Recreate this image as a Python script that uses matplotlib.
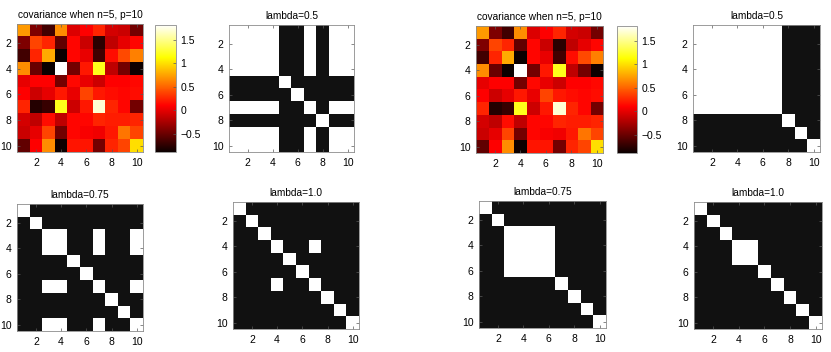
import numpy as np
import matplotlib.pyplot as plt
from matplotlib.colors import ListedColormap

# sample covariance (n=5, p=10)
cov_row1 = [0.72, -0.42, -0.66, 0.67, -0.04, 0.10, 0.25, -0.07, -0.11, -0.46]
cov_row2 = [-0.42, 0.38, 0.25, -0.54, 0.12, -0.11, -0.76, -0.15, 0.00, 0.12]
cov_row3 = [-0.66, 0.25, 0.79, -0.89, 0.12, 0.02, -0.66, 0.15, 0.40, 0.62]
cov_row4 = [0.67, -0.50, -0.89, 1.82, -0.46, 0.20, 1.20, -0.15, -0.46, -0.87]
cov_row5 = [0.00, 0.10, 0.10, -0.46, 0.13, 0.02, -0.10, 0.10, 0.10, 0.13]
cov_row6 = [0.10, -0.10, 0.00, 0.20, 0.02, 0.38, 0.20, 0.15, 0.12, 0.15]
cov_row7 = [0.25, -0.78, -0.70, 1.20, -0.10, 0.20, 1.70, 0.25, 0.12, -0.46]
cov_row8 = [-0.07, -0.15, 0.15, -0.15, 0.12, 0.12, 0.25, 0.22, 0.22, 0.25]
cov_row9 = [-0.11, 0.00, 0.38, -0.46, 0.12, 0.08, 0.05, 0.20, 0.58, 0.38]
cov_row10 = [-0.54, 0.10, 0.67, -0.87, 0.18, 0.18, -0.46, 0.25, 0.38, 1.00]

# cluster label of each of the 10 variables (same label -> white block)
left_lam05 = [1, 1, 1, 1, 2, 3, 1, 4, 1, 1]
left_lam075 = [1, 2, 3, 3, 4, 5, 3, 6, 7, 3]
left_lam10 = [1, 2, 3, 4, 5, 6, 4, 7, 8, 9]
right_lam05 = [1, 1, 1, 1, 1, 1, 1, 2, 3, 4]
right_lam075 = [1, 2, 3, 3, 3, 3, 4, 5, 6, 7]
right_lam10 = [1, 2, 3, 4, 4, 5, 6, 7, 8, 9]

lambdas = ['lambda=0.5', 'lambda=0.75', 'lambda=1.0']
ticks = [2, 4, 6, 8, 10]
cb_ticks = [-0.5, 0, 0.5, 1, 1.5]
cb_labels = ['\u22120.5', '0', '0.5', '1', '1.5']

cov = np.array([cov_row1, cov_row2, cov_row3, cov_row4, cov_row5,
                cov_row6, cov_row7, cov_row8, cov_row9, cov_row10])

plt.rcParams['font.family'] = ['Liberation Sans', 'DejaVu Sans']
plt.rcParams['font.size'] = 7.5

W, H = 831, 352
fig = plt.figure(figsize=(W / 100, H / 100), dpi=100)


def px(l, t, r, b):
    return [l / W, 1 - b / H, (r - l) / W, (b - t) / H]


def style(ax, title):
    ax.set_xticks(ticks)
    ax.set_yticks(ticks)
    ax.tick_params(direction='in', length=2.5, width=0.5, color='0.35',
                   top=True, right=True, pad=4, labelsize=7.5)
    for s in ax.spines.values():
        s.set_color('0.55')
        s.set_linewidth(0.6)
    ax.set_title(title, fontsize=7.3, pad=4)


bw = ListedColormap(['#111111', 'white'])


def show_cov(box, cbox):
    ax = fig.add_axes(px(*box))
    im = ax.imshow(cov, cmap='hot', interpolation='nearest', aspect='auto',
                   extent=(0.5, 10.5, 10.5, 0.5))
    style(ax, 'covariance when n=5, p=10')
    cax = fig.add_axes(px(*cbox))
    cb = fig.colorbar(im, cax=cax)
    cb.set_ticks(cb_ticks)
    cb.set_ticklabels(cb_labels)
    cax.tick_params(direction='in', length=2, width=0.5, color='0.35',
                    labelsize=7.5, pad=3)
    cb.outline.set_edgecolor('0.55')
    cb.outline.set_linewidth(0.6)


def show_groups(box, labels, title):
    lab = np.array(labels)
    adj = (lab[:, None] == lab[None, :]).astype(float)
    ax = fig.add_axes(px(*box))
    ax.imshow(adj, cmap=bw, vmin=0, vmax=1, interpolation='nearest',
              aspect='auto', extent=(0.5, 10.5, 10.5, 0.5))
    style(ax, title)


# left figure
show_cov((17, 24, 143, 152), (155, 25, 176, 152))
show_groups((229, 25, 354, 152), left_lam05, lambdas[0])
show_groups((17, 204, 143, 331), left_lam075, lambdas[1])
show_groups((233, 202, 359, 329), left_lam10, lambdas[2])

# right figure
show_cov((476, 26, 603, 153), (617, 26, 637, 153))
show_groups((693, 25, 820, 152), right_lam05, lambdas[0])
show_groups((479, 201, 606, 328), right_lam075, lambdas[1])
show_groups((694, 202, 822, 329), right_lam10, lambdas[2])

fig.savefig('out.png', dpi=100, facecolor='white')
